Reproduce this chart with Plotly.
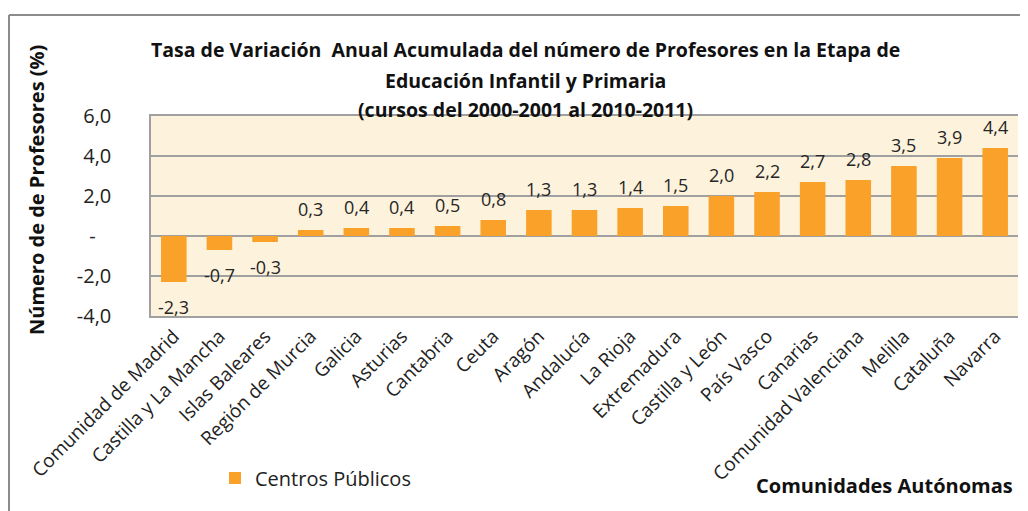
import plotly.graph_objects as go

categories = ["Comunidad de Madrid", "Castilla y La Mancha", "Islas Baleares", "Región de Murcia",
              "Galicia", "Asturias", "Cantabria", "Ceuta", "Aragón", "Andalucía", "La Rioja",
              "Extremadura", "Castilla y León", "País Vasco", "Canarias", "Comunidad Valenciana",
              "Melilla", "Cataluña", "Navarra"]
values = [-2.3, -0.7, -0.3, 0.3, 0.4, 0.4, 0.5, 0.8, 1.3, 1.3, 1.4, 1.5, 2.0, 2.2, 2.7, 2.8, 3.5, 3.9, 4.4]
y_ticks = [-4, -2, 0, 2, 4, 6]
y_tick_labels = ["-4,0", "-2,0", "-\u00a0\u00a0\u00a0", "2,0", "4,0", "6,0"]
series_name = "Centros Públicos"
title_lines = ["Tasa de Variación  Anual Acumulada del número de Profesores en la Etapa de",
               "Educación Infantil y Primaria",
               "(cursos del 2000-2001 al 2010-2011)"]
y_title = "Número de de Profesores (%)"
x_title = "Comunidades Autónomas"

FONT = "Open Sans"
OFF = 8  # default page body margin
W, H = 1028 - OFF, 511 - OFF
L, T = 151 - OFF, 116 - OFF
R = W - (1018 - OFF)
B = H - (316 - OFF)
PW, PH = W - L - R, H - T - B


def px_x(x):
    return (x - OFF - L) / PW


def px_y(y):
    return (H - B - (y - OFF)) / PH


fig = go.Figure()
fig.add_trace(go.Bar(
    x=categories, y=values, name=series_name,
    marker=dict(color="#FAA12A", line=dict(width=0)),
    showlegend=True,
))

annotations = []
for c, v in zip(categories, values):
    annotations.append(dict(
        x=c, y=v, xref="x", yref="y",
        text=f"{v:.1f}".replace(".", ","),
        showarrow=False, yanchor="middle",
        yshift=21 if v >= 0 else -25,
        font=dict(family=FONT, size=18, color="#262626"),
    ))

title_y = [50, 80, 109]
for line, yy in zip(title_lines, title_y):
    annotations.append(dict(
        x=px_x(525), y=px_y(yy), xref="paper", yref="paper",
        text=f"<b>{line}</b>", showarrow=False, xanchor="center", yanchor="middle",
        font=dict(family=FONT, size=19.5, color="#111111"),
    ))

annotations.append(dict(
    x=px_x(36), y=px_y(190), xref="paper", yref="paper",
    text=f"<b>{y_title}</b>", textangle=-90, showarrow=False,
    xanchor="center", yanchor="middle",
    font=dict(family=FONT, size=20, color="#111111"),
))
annotations.append(dict(
    x=px_x(884), y=px_y(485), xref="paper", yref="paper",
    text=f"<b>{x_title}</b>", showarrow=False,
    xanchor="center", yanchor="middle",
    font=dict(family=FONT, size=20, color="#111111"),
))

shapes = [
    dict(type="line", xref="paper", yref="paper",
         x0=px_x(9), x1=px_x(1040), y0=px_y(15), y1=px_y(15),
         line=dict(color="#8C8C8C", width=2)),
    dict(type="line", xref="paper", yref="paper",
         x0=px_x(9), x1=px_x(9), y0=px_y(15), y1=px_y(520),
         line=dict(color="#8C8C8C", width=2)),
]

fig.update_layout(
    width=W, height=H,
    margin=dict(l=L, r=R, t=T, b=B, autoexpand=False),
    paper_bgcolor="white",
    plot_bgcolor="#FDF2DC",
    bargap=0.44,
    annotations=annotations,
    shapes=shapes,
    legend=dict(x=px_x(215), y=px_y(478), xanchor="left", yanchor="middle",
                font=dict(family=FONT, size=20, color="#222222"),
                bgcolor="rgba(0,0,0,0)"),
    font=dict(family=FONT),
)
fig.update_xaxes(
    tickangle=-45, tickfont=dict(family=FONT, size=19, color="#222222"),
    showline=True, linecolor="#A0A0A0", linewidth=1.5, mirror=True,
    ticks="", showgrid=False,
)
fig.update_yaxes(
    range=[-4, 6], tickvals=y_ticks, ticktext=y_tick_labels,
    tickfont=dict(family=FONT, size=20, color="#222222"),
    showgrid=True, gridcolor="#A0A0A0", gridwidth=1.5,
    zeroline=True, zerolinecolor="#A0A0A0", zerolinewidth=1.5,
    showline=True, linecolor="#A0A0A0", linewidth=1.5,
    ticks="", ticklabelstandoff=34,
)

fig.write_html("out.html")
